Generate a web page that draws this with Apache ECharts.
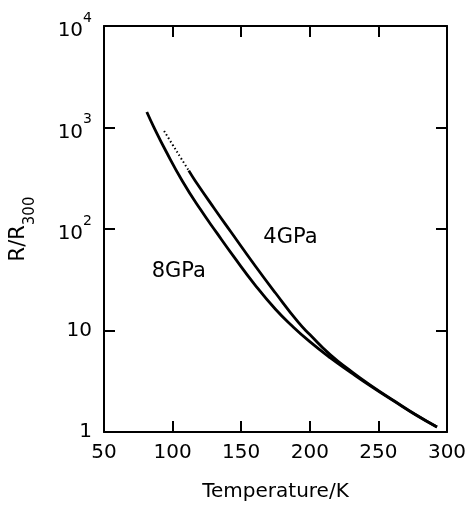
<!DOCTYPE html>
<html>
<head>
<meta charset="utf-8">
<script src="https://cdn.jsdelivr.net/npm/echarts@6/dist/echarts.min.js"></script>
<style>
html,body{margin:0;padding:0;background:#fff;}
#chart{width:474px;height:509px;}
</style>
</head>
<body>
<div id="chart"></div>
<script>
// Temperature (K) and R/R300 values
const temp8 = [81.2, 86.3, 95, 107.2, 120, 132.1, 145, 160, 175, 187.4, 200, 215, 230, 244.1, 262.2, 277, 292.7];
const r8    = [1420, 1010, 590, 296, 158, 92, 52.5, 28.2, 16.2, 11.0, 7.76, 5.37, 3.85, 2.85, 1.98, 1.48, 1.12];

const temp4dot = [93.8, 100, 106, 111.8];
const r4dot    = [925, 676, 501, 376];

const temp4 = [111.8, 116.3, 130, 142.3, 160, 175, 191.7, 200, 215, 230, 244.1, 262.2, 277, 292.7];
const r4    = [376, 301, 162, 94.4, 43.7, 23.4, 12.0, 9.12, 5.75, 3.98, 2.90, 2.0, 1.49, 1.12];

const xTicks = [50, 100, 150, 200, 250, 300];
const yTicks = [1, 10, 100, 1000, 10000];

const labelNames = ['8GPa', '4GPa'];
const labelT = [104.5, 185.9];
const labelR = [37.7, 81.5];

const zip = (a, b) => a.map((v, i) => [v, b[i]]);

const FONT = '"DejaVu Sans", "Liberation Sans", Arial, sans-serif';
const chart = echarts.init(document.getElementById('chart'), null, {renderer: 'canvas'});

const axisLine = {show: true, onZero: false, lineStyle: {color: '#000', width: 2}};
const tick = {show: true, inside: true, length: 11, lineStyle: {color: '#000', width: 2}};

const option = {
  backgroundColor: '#fff',
  animation: false,
  grid: {left: 103, right: 27, top: 26, bottom: 77, containLabel: false},
  xAxis: [{
    type: 'value', min: xTicks[0], max: xTicks[xTicks.length - 1], interval: 50,
    position: 'bottom',
    axisLine: axisLine, axisTick: tick, splitLine: {show: false},
    axisLabel: {color: '#000', fontSize: 20, fontFamily: FONT, margin: 11},
    name: 'Temperature/K', nameLocation: 'middle', nameGap: 50,
    nameTextStyle: {color: '#000', fontSize: 20, fontFamily: FONT}
  }, {
    type: 'value', min: xTicks[0], max: xTicks[xTicks.length - 1], interval: 50,
    position: 'top',
    axisLine: axisLine, axisTick: tick, splitLine: {show: false},
    axisLabel: {show: false}
  }],
  yAxis: [{
    type: 'log', logBase: 10, min: yTicks[0], max: yTicks[yTicks.length - 1],
    position: 'left',
    axisLine: axisLine, axisTick: tick, splitLine: {show: false},
    minorTick: {show: false},
    axisLabel: {
      color: '#000', fontSize: 20, fontFamily: FONT, margin: 12,
      formatter: function (v) {
        const e = Math.round(Math.log10(v));
        if (e === 0) return '1';
        if (e === 1) return '10';
        return '{b|10}{s|' + e + '}';
      },
      rich: {
        b: {fontSize: 20, fontFamily: FONT, color: '#000', lineHeight: 30, verticalAlign: 'bottom'},
        s: {fontSize: 14, fontFamily: FONT, color: '#000', lineHeight: 30, verticalAlign: 'top'}
      }
    },
    name: '{m|R/R}{sub|300}', nameLocation: 'middle', nameGap: 66, nameRotate: 90,
    nameTextStyle: {
      color: '#000', fontSize: 20, fontFamily: FONT,
      rich: {
        m: {fontSize: 21, fontFamily: FONT, color: '#000', lineHeight: 30, verticalAlign: 'top'},
        sub: {fontSize: 15, fontFamily: FONT, color: '#000', lineHeight: 30, verticalAlign: 'bottom'}
      }
    }
  }, {
    type: 'log', logBase: 10, min: yTicks[0], max: yTicks[yTicks.length - 1],
    position: 'right',
    axisLine: axisLine, axisTick: tick, splitLine: {show: false},
    minorTick: {show: false},
    axisLabel: {show: false}
  }],
  series: [{
    name: '8GPa', type: 'line', smooth: 0.5, showSymbol: false,
    data: zip(temp8, r8),
    lineStyle: {color: '#000', width: 2.8}
  }, {
    name: '4GPa dotted', type: 'line', smooth: 0.5, showSymbol: false,
    data: zip(temp4dot, r4dot),
    lineStyle: {color: '#000', width: 2, type: [1.5, 2.5]}
  }, {
    name: '4GPa', type: 'line', smooth: 0.5, showSymbol: false,
    data: zip(temp4, r4),
    lineStyle: {color: '#000', width: 2.8}
  }, {
    name: 'labels', type: 'scatter', symbolSize: 0,
    itemStyle: {color: '#000', opacity: 1},
    data: labelNames.map((n, i) => ({value: [labelT[i], labelR[i]], name: n})),
    label: {show: true, position: 'inside', formatter: '{b}', color: '#000', textBorderWidth: 0, fontSize: 21, fontFamily: FONT}
  }]
};
chart.setOption(option);
</script>
</body>
</html>
